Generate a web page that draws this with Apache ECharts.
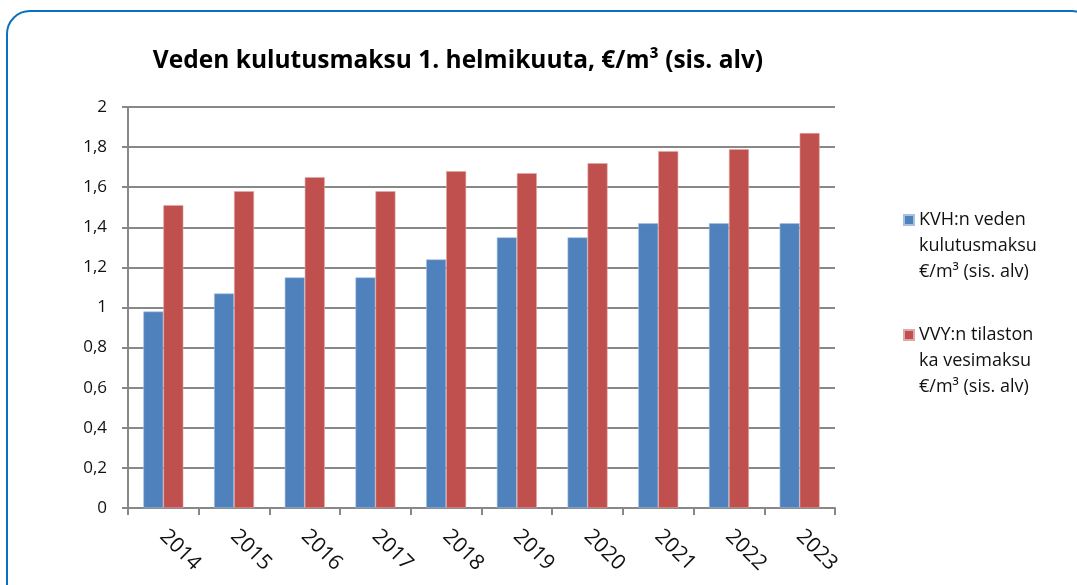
<!DOCTYPE html>
<html>
<head>
<meta charset="utf-8">
<script src="https://cdn.jsdelivr.net/npm/echarts@6/dist/echarts.min.js"></script>
<style>
  html, body { margin: 0; padding: 0; background: #fff; overflow: hidden; }
  .frame {
    position: absolute; left: 6px; top: 10px; width: 1090px; height: 620px;
    border: 2px solid #0a70c0; border-radius: 24px; box-sizing: border-box;
  }
  #chart { position: absolute; left: 0; top: 0; width: 1077px; height: 585px; }
</style>
</head>
<body>
<div class="frame"></div>
<div id="chart"></div>
<script>
  // vuodet ja maksut (€/m³)
  const years = ['2014', '2015', '2016', '2017', '2018', '2019', '2020', '2021', '2022', '2023'];
  const kvh = [0.98, 1.07, 1.15, 1.15, 1.24, 1.35, 1.35, 1.42, 1.42, 1.42];
  const vvy = [1.51, 1.58, 1.65, 1.58, 1.68, 1.67, 1.72, 1.78, 1.79, 1.87];
  const seriesNames = ['KVH:n veden\nkulutusmaksu\n€/m³ (sis. alv)', 'VVY:n tilaston\nka vesimaksu\n€/m³ (sis. alv)'];

  const font = '"Open Sans", Lato, sans-serif';
  const gray = '#888888';

  // legendan teksti: kaksi tyhjää riviä ylös, jotta ikoni osuu ensimmäiselle riville
  function legendBox(name, top) {
    return {
      orient: 'vertical',
      left: 898, top: top,
      itemWidth: 10, itemHeight: 10,
      icon: 'rect',
      formatter: function (n) { return '\n\n' + n; },
      textStyle: { fontFamily: font, fontSize: 18, color: '#111', lineHeight: 26 },
      data: [name]
    };
  }

  let chart = echarts.init(document.getElementById('chart'));
  let option = {
    animation: false,
    textStyle: { fontFamily: font },
    title: {
      text: 'Veden kulutusmaksu 1. helmikuuta, €/m³ (sis. alv)',
      left: 453, top: 44, textAlign: 'center',
      textStyle: { fontFamily: font, fontSize: 24.5, fontWeight: 'bold', color: '#000' }
    },
    legend: [legendBox(seriesNames[0], 150), legendBox(seriesNames[1], 265)],
    grid: { left: 128, right: 242, top: 107, bottom: 77 },
    xAxis: {
      type: 'category',
      data: years,
      axisLine: { lineStyle: { color: gray, width: 2 } },
      axisTick: { show: true, length: 7, lineStyle: { color: gray, width: 2 } },
      axisLabel: {
        rotate: -45, align: 'left', verticalAlign: 'middle',
        fontSize: 21, color: '#111', margin: 25, fontFamily: font
      }
    },
    yAxis: {
      type: 'value',
      min: 0, max: 2, interval: 0.2,
      axisLine: { show: true, lineStyle: { color: gray, width: 2 } },
      axisTick: { show: true, length: 6, lineStyle: { color: gray, width: 2 } },
      splitLine: { lineStyle: { color: gray, width: 2 } },
      axisLabel: {
        fontSize: 17, color: '#111', margin: 21, fontFamily: font,
        formatter: function (v) { return String(Math.round(v * 10) / 10).replace('.', ','); }
      }
    },
    series: [
      {
        name: seriesNames[0], type: 'bar', data: kvh,
        barWidth: 20, barGap: '0%', barCategoryGap: '43%',
        itemStyle: { color: '#4f81bd', borderColor: '#a9c1e0', borderWidth: 0.6 }
      },
      {
        name: seriesNames[1], type: 'bar', data: vvy,
        barWidth: 20,
        itemStyle: { color: '#c0504d', borderColor: '#e0a8a6', borderWidth: 0.6 }
      }
    ]
  };
  chart.setOption(option);
</script>
</body>
</html>
